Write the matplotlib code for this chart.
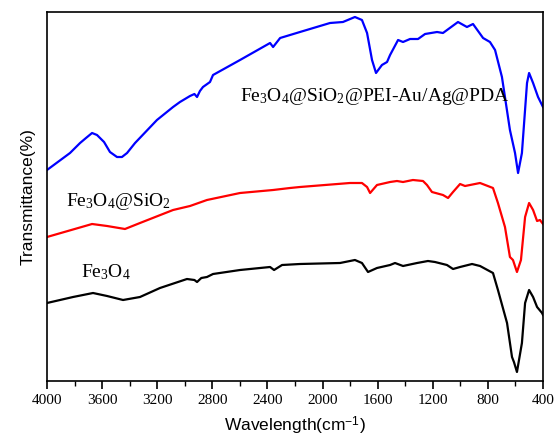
import matplotlib
matplotlib.use('Agg')
import matplotlib.pyplot as plt
from matplotlib.ticker import MultipleLocator

plt.rcParams['mathtext.fontset'] = 'custom'
plt.rcParams['mathtext.rm'] = 'Liberation Serif'
plt.rcParams['mathtext.it'] = 'Liberation Serif:italic'
plt.rcParams['mathtext.sf'] = 'Liberation Sans'

# FTIR spectra, transmittance in arbitrary (offset) units
wn_blue = [4000, 3833, 3760, 3717, 3673, 3637, 3586, 3543, 3492, 3456,
           3419, 3361, 3202, 3085, 3035, 2962, 2930, 2911, 2890, 2868,
           2817, 2795, 2599, 2381, 2359, 2308, 2236, 2164, 1946, 1852,
           1765, 1714, 1677, 1641, 1612, 1569, 1532, 1510, 1452, 1416,
           1365, 1307, 1256, 1169, 1126, 1017, 952, 908, 835, 785,
           748, 698, 640, 603, 581, 553, 516, 501, 472, 436, 400]
t_blue = [211, 228, 238, 243, 248, 246, 239, 229, 224, 224,
          228, 238, 261, 274, 279, 285, 287, 284, 290, 294,
          299, 306, 321, 338, 334, 343, 346, 349, 358, 359,
          364, 361, 348, 321, 308, 316, 319, 326, 341, 339,
          342, 342, 347, 349, 348, 359, 354, 357, 343, 339,
          331, 304, 251, 228, 208, 228, 298, 308, 298, 284, 274]

wn_red = [4000, 3673, 3564, 3434, 3325, 3085, 2962, 2839, 2599, 2359,
          2236, 2164, 1801, 1714, 1677, 1655, 1605, 1510, 1460, 1416,
          1344, 1271, 1242, 1206, 1126, 1089, 1053, 1002, 966, 857,
          763, 727, 676, 640, 618, 589, 560, 530, 501, 472,
          443, 422, 400]
t_red = [144, 157, 155, 152, 158, 171, 175, 181, 188, 191,
         193, 194, 198, 198, 194, 188, 196, 199, 200, 199,
         201, 200, 196, 189, 186, 183, 189, 197, 195, 198,
         193, 178, 154, 124, 121, 109, 121, 164, 178, 171,
         160, 161, 157]

wn_black = [4000, 3811, 3666, 3564, 3448, 3325, 3180, 2984, 2930, 2911,
            2880, 2839, 2795, 2599, 2381, 2352, 2294, 2164, 1873, 1765,
            1714, 1670, 1605, 1510, 1474, 1416, 1314, 1235, 1184, 1097,
            1053, 1002, 915, 857, 763, 727, 661, 625, 611, 589,
            553, 530, 501, 472, 443, 407, 400]
t_black = [78, 84, 88, 85, 81, 84, 93, 102, 101, 99,
           103, 104, 107, 111, 114, 111, 116, 117, 118, 121,
           118, 109, 113, 116, 118, 115, 118, 120, 119, 116,
           112, 114, 117, 115, 108, 91, 58, 24, 19, 9,
           38, 78, 91, 84, 74, 68, 66]

labels = [r'Fe$_3$O$_4$@SiO$_2$@PEI-Au/Ag@PDA', r'Fe$_3$O$_4$@SiO$_2$', r'Fe$_3$O$_4$']

fig = plt.figure(figsize=(5.56, 4.43), dpi=100)
ax = fig.add_axes([47 / 556, 62 / 443, 496 / 556, 369 / 443])

ax.plot(wn_blue, t_blue, color='#0000ff', lw=1.6)
ax.plot(wn_red, t_red, color='#ff0000', lw=1.6)
ax.plot(wn_black, t_black, color='black', lw=1.6)

ax.text(2600, 284, labels[0], fontsize=14, family='Liberation Serif', va='center')
ax.text(3862, 179, labels[1], fontsize=14, family='Liberation Serif', va='center')
ax.text(3753, 109, labels[2], fontsize=14, family='Liberation Serif', va='center')

ax.set_xlim(4000, 400)
ax.set_ylim(0, 369)
ax.xaxis.set_major_locator(MultipleLocator(400))
ax.xaxis.set_minor_locator(MultipleLocator(200))
ax.tick_params(axis='x', which='major', direction='out', length=6, width=1.2,
               labelsize=11, pad=3)
ax.tick_params(axis='x', which='minor', direction='out', length=3.5, width=1.0)
ax.set_yticks([])
for lab in ax.get_xticklabels():
    lab.set_family('Liberation Serif')
for sp in ax.spines.values():
    sp.set_linewidth(1.2)

ax.set_xlabel(r'Wavelength(cm$^{\mathsf{-1}}$)', fontsize=12.5, family='Liberation Sans', labelpad=6)
ax.set_ylabel('Transmittance(%)', fontsize=12.5, family='Liberation Sans', labelpad=8)

fig.savefig('out.png', dpi=100)
